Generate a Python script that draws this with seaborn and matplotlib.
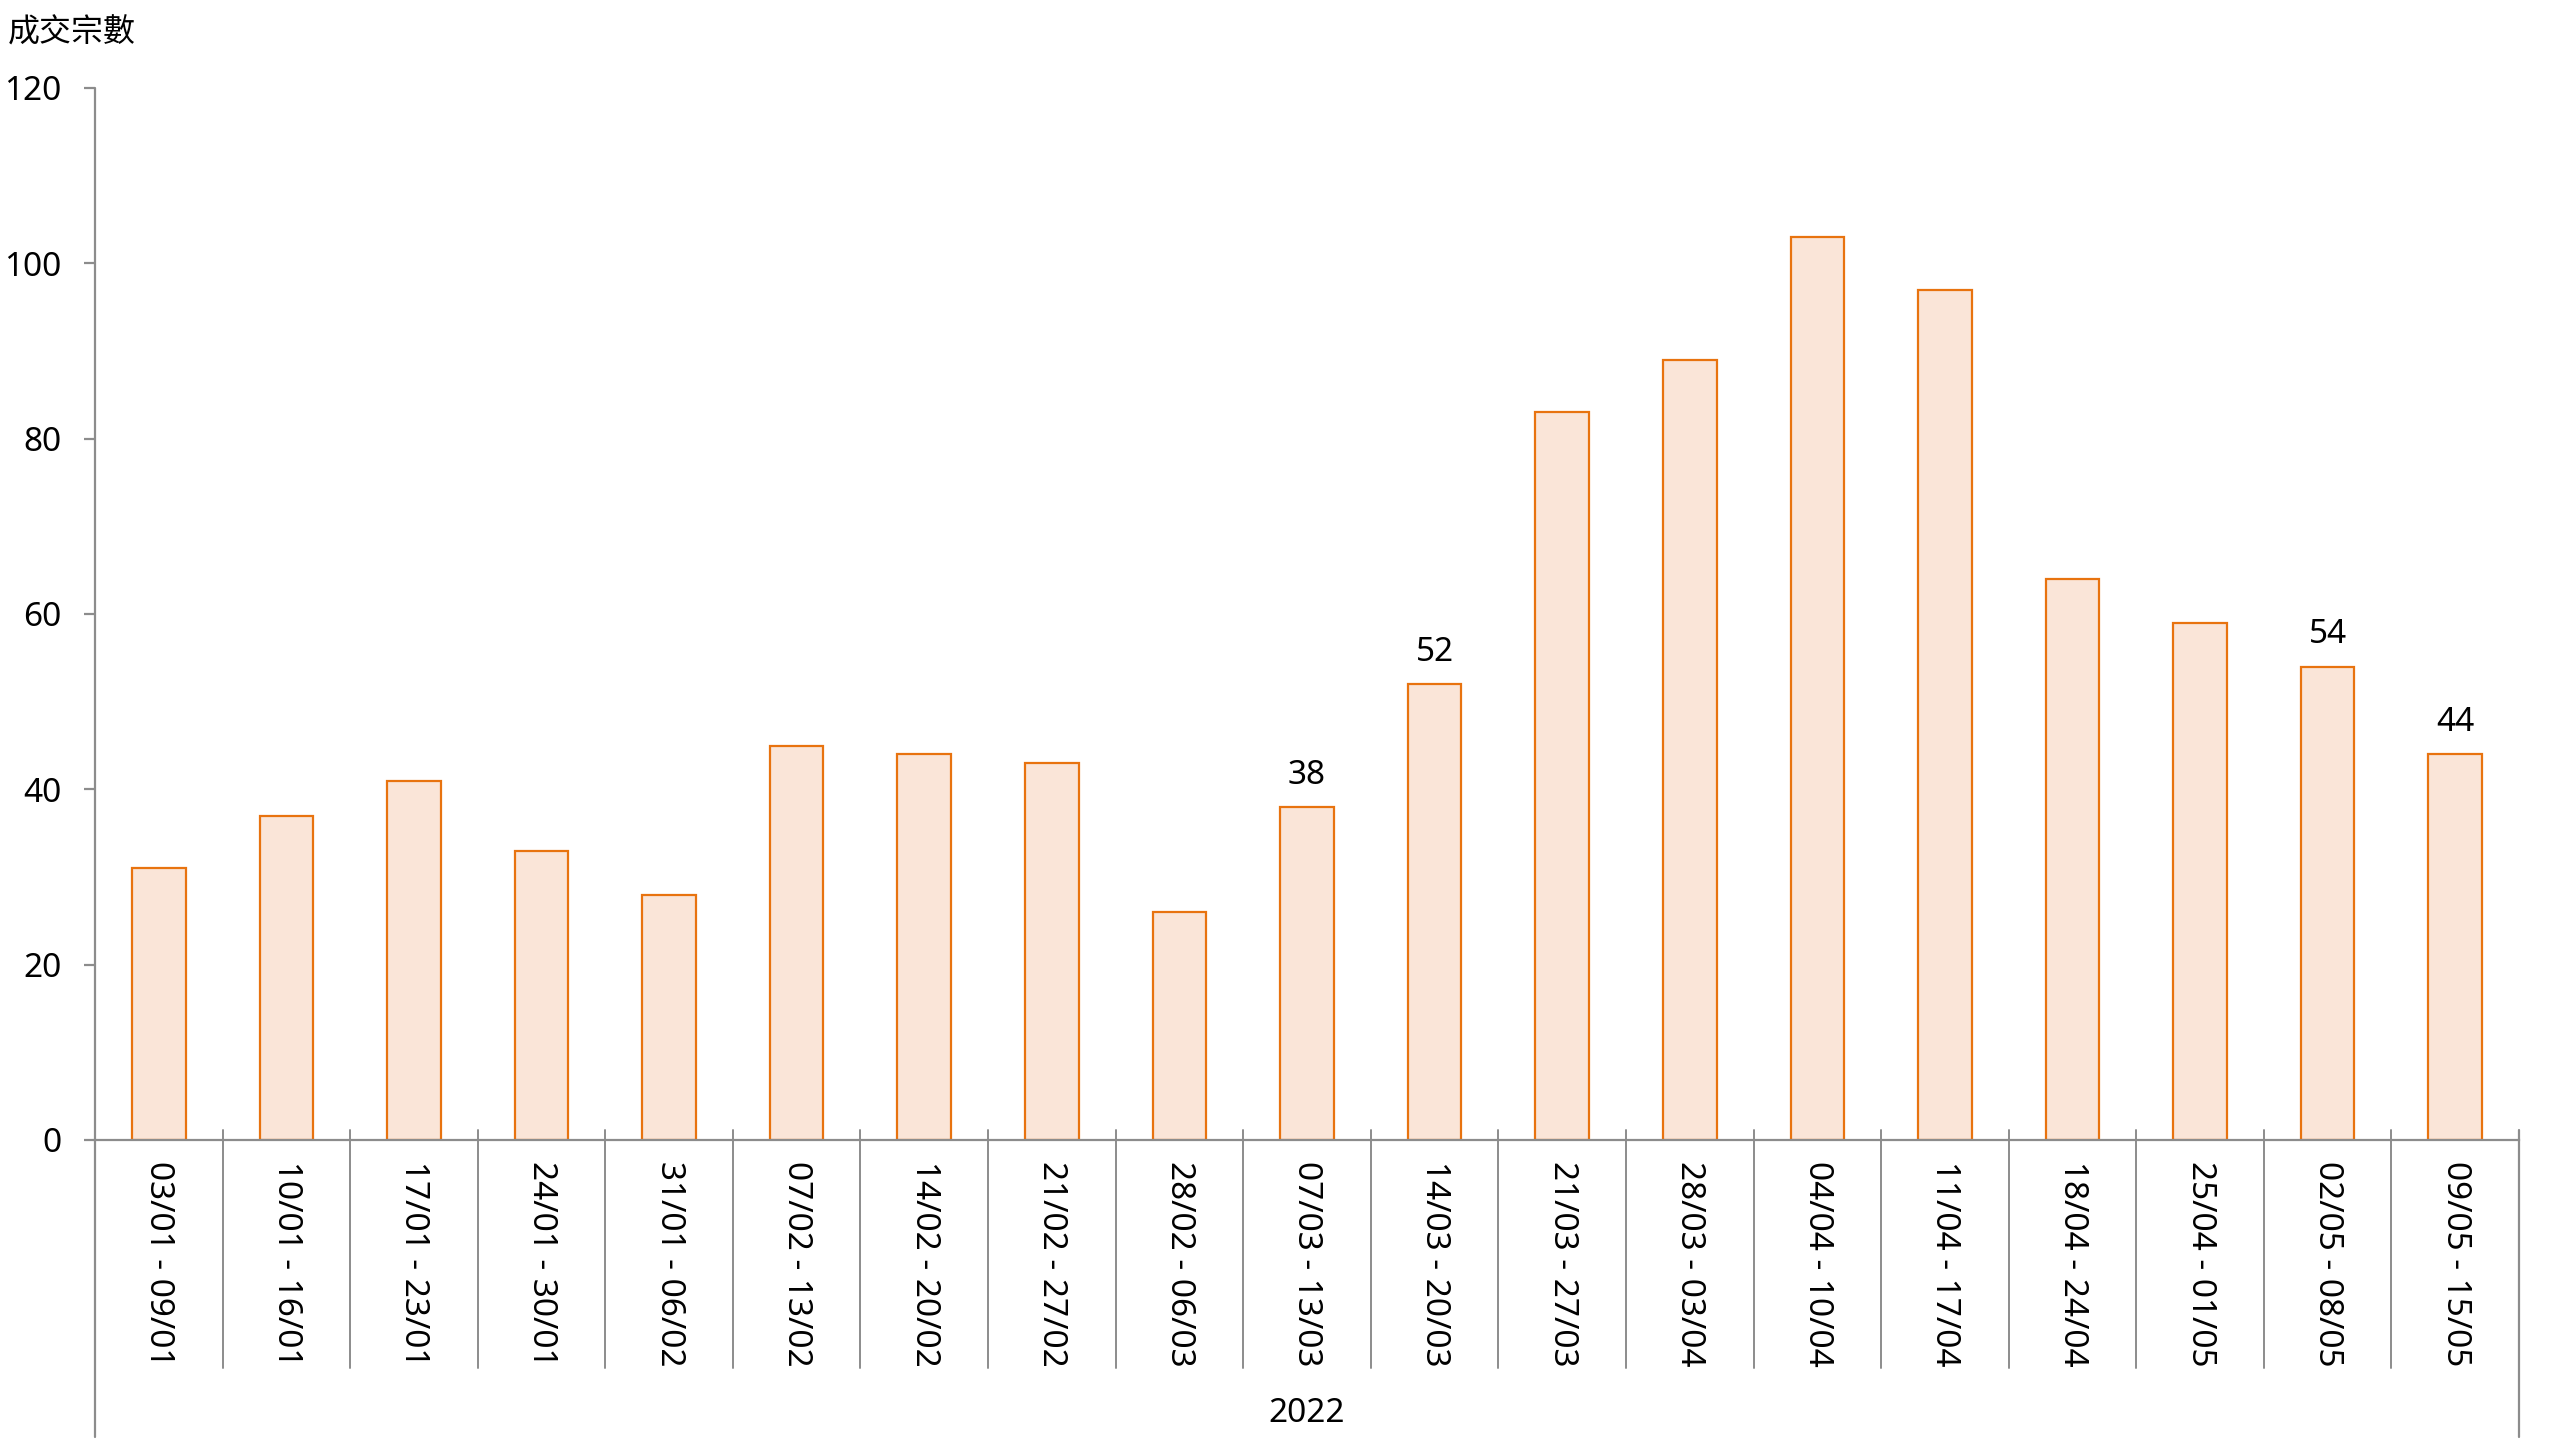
import matplotlib
matplotlib.use("Agg")
import matplotlib.pyplot as plt
import matplotlib.transforms as mtransforms
import seaborn as sns

# Data
weeks = ["03/01 - 09/01", "10/01 - 16/01", "17/01 - 23/01", "24/01 - 30/01",
         "31/01 - 06/02", "07/02 - 13/02", "14/02 - 20/02", "21/02 - 27/02",
         "28/02 - 06/03", "07/03 - 13/03", "14/03 - 20/03", "21/03 - 27/03",
         "28/03 - 03/04", "04/04 - 10/04", "11/04 - 17/04", "18/04 - 24/04",
         "25/04 - 01/05", "02/05 - 08/05", "09/05 - 15/05"]
deals = [31, 37, 41, 33, 28, 45, 44, 43, 26, 38, 52, 83, 89, 103, 97, 64, 59, 54, 44]
labelled = ["07/03 - 13/03", "14/03 - 20/03", "02/05 - 08/05", "09/05 - 15/05"]
year_label = "2022"
y_title = "成交宗數"
y_ticks = [0, 20, 40, 60, 80, 100, 120]

sns.set_style("white")
plt.rcParams["font.family"] = ["Noto Sans", "Noto Sans CJK TC", "DejaVu Sans"]

W, H = 2560, 1440
fig = plt.figure(figsize=(25.6, 14.4), dpi=100)
ax_l, ax_r, ax_t, ax_b = 95, 2519, 88, 1140
ax = fig.add_axes([ax_l / W, 1 - ax_b / H, (ax_r - ax_l) / W, (ax_b - ax_t) / H])

fill = "#FAE5D8"
edge = "#E8730F"
grey = "#8C8C8C"
fs = 24

sns.barplot(x=weeks, y=deals, color=fill, edgecolor=edge, linewidth=1.6,
            width=0.42, saturation=1, ax=ax)

ax.set_xlim(-0.5, len(weeks) - 0.5)
ax.set_ylim(0, 120)
ax.set_yticks(y_ticks)
ax.set_xlabel("")
ax.set_ylabel("")

for s in ["top", "right", "left"]:
    ax.spines[s].set_visible(False)
ax.spines["bottom"].set_color(grey)
ax.spines["bottom"].set_linewidth(1.6)

ax.tick_params(axis="y", length=8, width=1.6, color=grey, pad=16,
               labelsize=fs, labelcolor="black", left=True)
ax.tick_params(axis="x", length=0, pad=15, labelsize=fs, labelcolor="black",
               labelrotation=-90)
for t in ax.get_xticklabels():
    t.set_va("top")
    t.set_ha("center")

# category separators and outer frame lines
axh = ax_b - ax_t
trans = mtransforms.blended_transform_factory(ax.transData, ax.transAxes)
top_y = 10 / axh
sep_bot = -(1368 - ax_b) / axh
out_bot = -(1437 - ax_b) / axh
for i in range(len(weeks) - 1):
    ax.plot([i + 0.5, i + 0.5], [top_y, sep_bot], color=grey, lw=1.4,
            transform=trans, clip_on=False)
ax.plot([-0.5, -0.5], [1, out_bot], color=grey, lw=1.6, transform=trans,
        clip_on=False)
ax.plot([len(weeks) - 0.5, len(weeks) - 0.5], [top_y, out_bot], color=grey,
        lw=1.6, transform=trans, clip_on=False)

ax.text((len(weeks) - 1) / 2, -(1414 - ax_b) / axh, year_label, transform=trans,
        ha="center", va="center", fontsize=fs, color="black")

# value labels
for i, (w, v) in enumerate(zip(weeks, deals)):
    if w in labelled:
        ax.annotate(str(v), (i, v), xytext=(0, 11), textcoords="offset points",
                    ha="center", va="bottom", fontsize=fs, color="black")

fig.text(8 / W, 1 - 33 / H, y_title, ha="left", va="center", fontsize=23,
         color="black", family=["Noto Sans CJK TC", "DejaVu Sans"])

fig.savefig("out.png", dpi=100)
